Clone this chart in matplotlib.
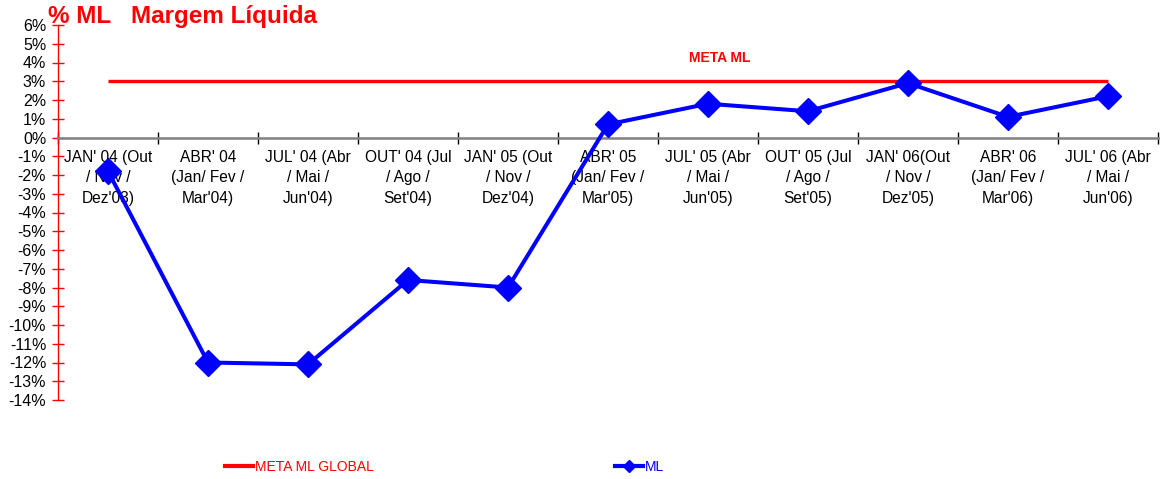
import matplotlib
matplotlib.use("Agg")
import matplotlib.pyplot as plt
from matplotlib.lines import Line2D
from matplotlib.ticker import FixedLocator, FuncFormatter

plt.rcParams["font.family"] = ["Liberation Sans", "DejaVu Sans"]

# quarterly net margin (%), with the global target
quarters = [
    "JAN' 04 (Out\n/ Nov /\nDez'03)",
    "ABR' 04\n(Jan/ Fev /\nMar'04)",
    "JUL' 04 (Abr\n/ Mai /\nJun'04)",
    "OUT' 04 (Jul\n/ Ago /\nSet'04)",
    "JAN' 05 (Out\n/ Nov /\nDez'04)",
    "ABR' 05\n(Jan/ Fev /\nMar'05)",
    "JUL' 05 (Abr\n/ Mai /\nJun'05)",
    "OUT' 05 (Jul\n/ Ago /\nSet'05)",
    "JAN' 06(Out\n/ Nov /\nDez'05)",
    "ABR' 06\n(Jan/ Fev /\nMar'06)",
    "JUL' 06 (Abr\n/ Mai /\nJun'06)",
]
ml = [-1.8, -12.0, -12.1, -7.6, -8.0, 0.7, 1.8, 1.4, 2.9, 1.1, 2.2]
meta = [3.0] * len(quarters)
y_ticks = list(range(-14, 7))

RED, BLUE, GREY = "#ff0000", "#0000ff", "#808080"

fig = plt.figure(figsize=(11.61, 4.79), dpi=100)
ax = fig.add_axes([58 / 1161, 1 - 400 / 479, 1100 / 1161, 375 / 479])
x = list(range(len(quarters)))

ax.plot(x, meta, color=RED, lw=2.4, zorder=3, solid_capstyle="butt")
ax.plot(x, ml, color=BLUE, lw=2.9, marker="D", ms=13, mfc=BLUE, mec=BLUE,
        zorder=4)

ax.set_xlim(-0.5, len(quarters) - 0.5)
ax.set_ylim(-14, 6)

for s in ("top", "right"):
    ax.spines[s].set_visible(False)
ax.spines["left"].set_color(RED)
ax.spines["left"].set_linewidth(1.0)
ax.spines["bottom"].set_position(("data", 0))
ax.spines["bottom"].set_color(GREY)
ax.spines["bottom"].set_linewidth(1.8)

ax.xaxis.set_major_locator(FixedLocator([i - 0.5 for i in range(len(quarters) + 1)]))
ax.xaxis.set_major_formatter(FuncFormatter(lambda v, p: ""))
ax.tick_params(axis="x", direction="inout", length=9, width=1, color="black")

ax.yaxis.set_major_locator(FixedLocator(y_ticks))
ax.yaxis.set_major_formatter(FuncFormatter(lambda v, p: f"{int(round(v))}%"))
ax.tick_params(axis="y", direction="inout", length=9, width=1, color=RED,
               labelcolor="black", labelsize=11.5, pad=4)

for i, lab in enumerate(quarters):
    ax.annotate(lab, (i, 0), xytext=(0, -9), textcoords="offset points",
                ha="center", va="top", fontsize=11.2, linespacing=1.45,
                zorder=1)

ax.text(6.12, 4.25, "META ML", color=RED, fontsize=10, fontweight="bold",
        ha="center", va="center")

fig.text(48 / 1161, 1 - 17 / 479, "% ML   Margem Líquida", color=RED,
         fontsize=17.5, fontweight="bold", ha="left", va="center")

leg_meta = Line2D([], [], color=RED, lw=3)
leg_ml = Line2D([], [], color=BLUE, lw=3, marker="D", ms=6)
for h, lab, col, xa in ((leg_meta, "META ML GLOBAL", RED, 225),
                        (leg_ml, "ML", BLUE, 615)):
    fig.legend([h], [lab], loc="center left",
               bbox_to_anchor=(xa / 1161, 1 - 467 / 479), frameon=False,
               borderpad=0, borderaxespad=0, handlelength=2.0,
               handletextpad=0.15, prop={"size": 10}, labelcolor=col)

fig.savefig("out.png", dpi=100)
